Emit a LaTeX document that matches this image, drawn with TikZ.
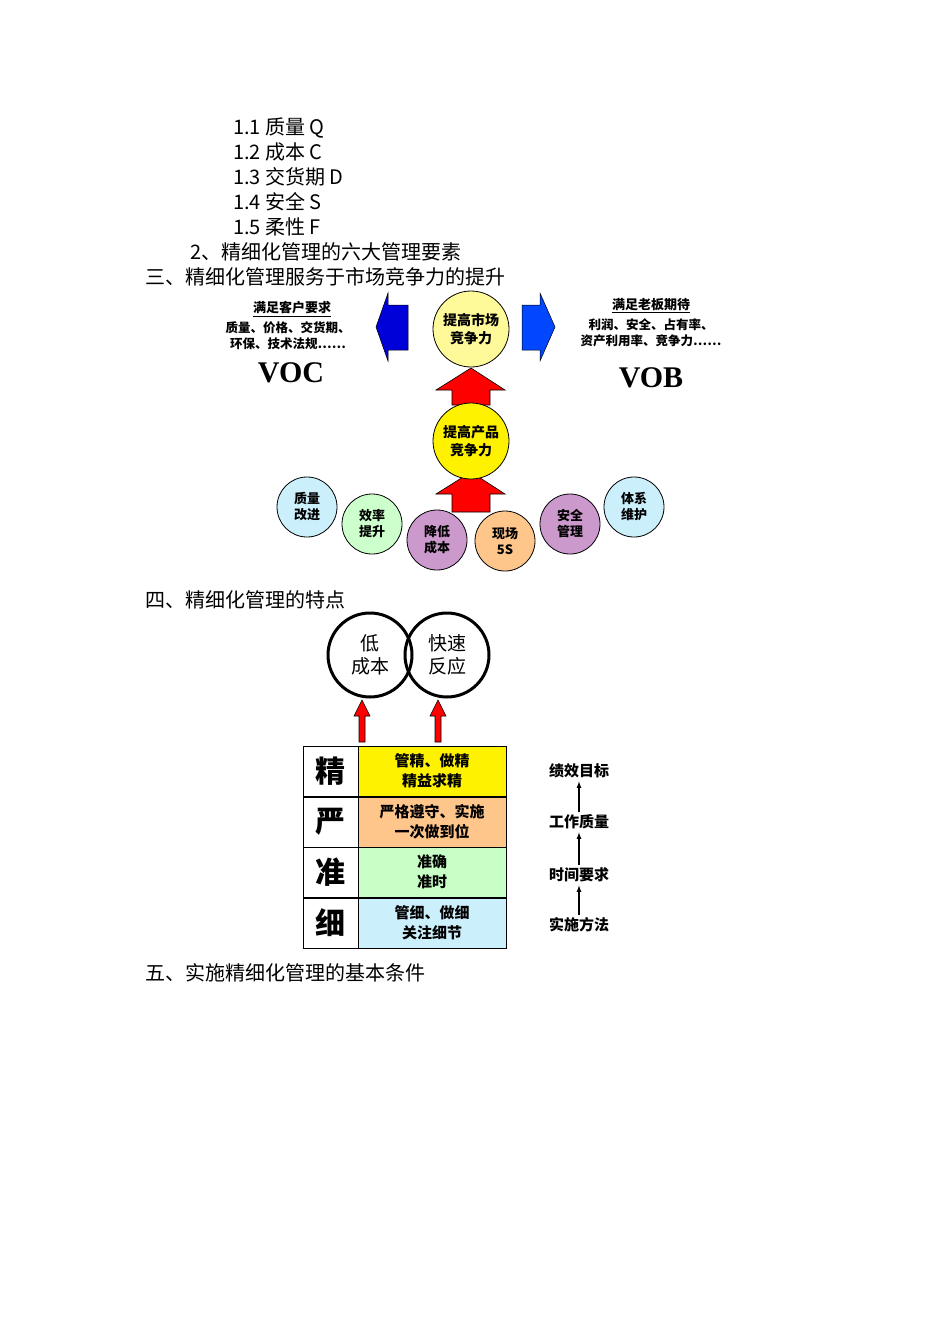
\documentclass[tikz,border=0pt]{standalone}
\usepackage{fontspec}
\setmainfont{Liberation Serif}
\newfontfamily\cjk{Noto Sans CJK SC}
\begin{document}
\begin{tikzpicture}[x=1pt,y=-1pt,
 body/.style={font=\fontsize{20}{22}\selectfont\cjk,anchor=west,inner sep=0},
 bub/.style={circle,draw=black,line width=0.8pt,minimum size=60,inner sep=0,align=center,font=\fontsize{13}{16}\selectfont\cjk\bfseries},
 big/.style={circle,draw=black,line width=0.8pt,minimum size=76,inner sep=0,align=center,font=\fontsize{14}{18}\selectfont\cjk\bfseries},
 ring/.style={circle,draw=black,line width=3pt,minimum size=84,inner sep=0,align=center,font=\fontsize{19}{23}\selectfont\cjk},
 small/.style={font=\fontsize{13}{16}\selectfont\cjk\bfseries,inner sep=0,align=center},
 cell/.style={draw=black,line width=1pt},
 redarr/.style={fill=red,draw=black,line width=0.6pt}]
\useasboundingbox (0,0) rectangle (950,1344);
\fill[white] (0,0) rectangle (950,1344);
\node[body] (l1) at (233,128) {1.1 质量 Q};
\node[body] (l2) at (233,152) {1.2 成本 C};
\node[body] (l3) at (233,177) {1.3 交货期 D};
\node[body] (l4) at (233,202) {1.4 安全 S};
\node[body] (l5) at (233,227) {1.5 柔性 F};
\node[body] (l6) at (190,252) {2、精细化管理的六大管理要素};
\node[body] (l7) at (145,277) {三、精细化管理服务于市场竞争力的提升};
% blue arrows
\draw[fill=blue!85!black,draw=black,line width=0.5pt] (376,327) -- (388,293) -- (388,305) -- (408,305) -- (408,350) -- (388,350) -- (388,361) -- cycle;
\draw[fill=blue!60!cyan!70!blue,draw=black,line width=0.5pt] (555,327) -- (540,293) -- (540,305) -- (522,305) -- (522,350) -- (540,350) -- (540,361) -- cycle;
% red arrows
\draw[redarr] (471,368) -- (505,390) -- (490,390) -- (490,405) -- (452,405) -- (452,390) -- (436,390) -- cycle;
\node[big,fill=yellow!40] (m) at (471,329) {提高市场\\竞争力};
\draw[redarr] (471,472) -- (505,494) -- (490,494) -- (490,512) -- (452,512) -- (452,494) -- (436,494) -- cycle;
\node[big,fill=yellow] (p) at (471,441) {提高产品\\竞争力};
\node[bub,fill=cyan!20] (c1) at (307,507) {质量\\改进};
\node[bub,fill=green!20] (c2) at (372,524) {效率\\提升};
\node[bub,fill=violet!40] (c3) at (437,540) {降低\\成本};
\node[bub,fill=orange!45] (c4) at (505,541) {现场\\5S};
\node[bub,fill=violet!40] (c5) at (570,524) {安全\\管理};
\node[bub,fill=cyan!20] (c6) at (634,507) {体系\\维护};
\node[small] (t1) at (292,309) {\underline{满足客户要求}};
\node[small,font=\fontsize{12.5}{16}\selectfont\cjk\bfseries] (t2) at (288,336) {质量、价格、交货期、\\环保、技术法规……};
\node[small,font=\fontsize{30}{30}\selectfont\bfseries] (voc) at (291,373) {VOC};
\node[small] (t3) at (651,306) {\underline{满足老板期待}};
\node[small,font=\fontsize{12.5}{16}\selectfont\cjk\bfseries] (t4) at (651,333) {利润、安全、占有率、\\资产利用率、竞争力……};
\node[small,font=\fontsize{30}{30}\selectfont\bfseries] (vob) at (651,378) {VOB};
\node[body] (l8) at (145,600) {四、精细化管理的特点};
\node[ring] (r1) at (370,655) {低\\成本};
\node[ring] (r2) at (447,655) {快速\\反应};
\draw[redarr] (362,700) -- (370,716) -- (365,716) -- (365,742) -- (359,742) -- (359,716) -- (354,716) -- cycle;
\draw[redarr] (438,700) -- (446,716) -- (441,716) -- (441,742) -- (435,742) -- (435,716) -- (430,716) -- cycle;
% table
\foreach \y/\c/\k/\t [count=\i] in {746/yellow/精/{管精、做精\\精益求精},797/orange!45/严/{严格遵守、实施\\一次做到位},847/green!22/准/{准确\\准时},898/cyan!20/细/{管细、做细\\关注细节}}{
 \pgfmathsetmacro\yb{\y+50.5}
 \draw[cell,fill=white] (303,\y) rectangle (358,\yb);
 \draw[cell,fill=\c] (358,\y) rectangle (506,\yb);
 \node[font=\fontsize{30}{30}\selectfont\cjk\bfseries] (k\i) at (330.5,\y+25) {\k};
 \node[small,font=\fontsize{15}{20}\selectfont\cjk\bfseries] (v\i) at (432,\y+25) {\t};
}
\node[small,font=\fontsize{15}{18}\selectfont\cjk\bfseries] (g1) at (579,771) {绩效目标};
\node[small,font=\fontsize{15}{18}\selectfont\cjk\bfseries] (g2) at (579,822) {工作质量};
\node[small,font=\fontsize{15}{18}\selectfont\cjk\bfseries] (g3) at (579,875) {时间要求};
\node[small,font=\fontsize{15}{18}\selectfont\cjk\bfseries] (g4) at (579,925) {实施方法};
\foreach \a/\b in {g2/g1,g3/g2,g4/g3}\draw[-latex,line width=1.2pt,shorten <=3pt,shorten >=3pt] (\a) -- (\b);
\node[body] (l9) at (145,973) {五、实施精细化管理的基本条件};
\end{tikzpicture}
\end{document}
